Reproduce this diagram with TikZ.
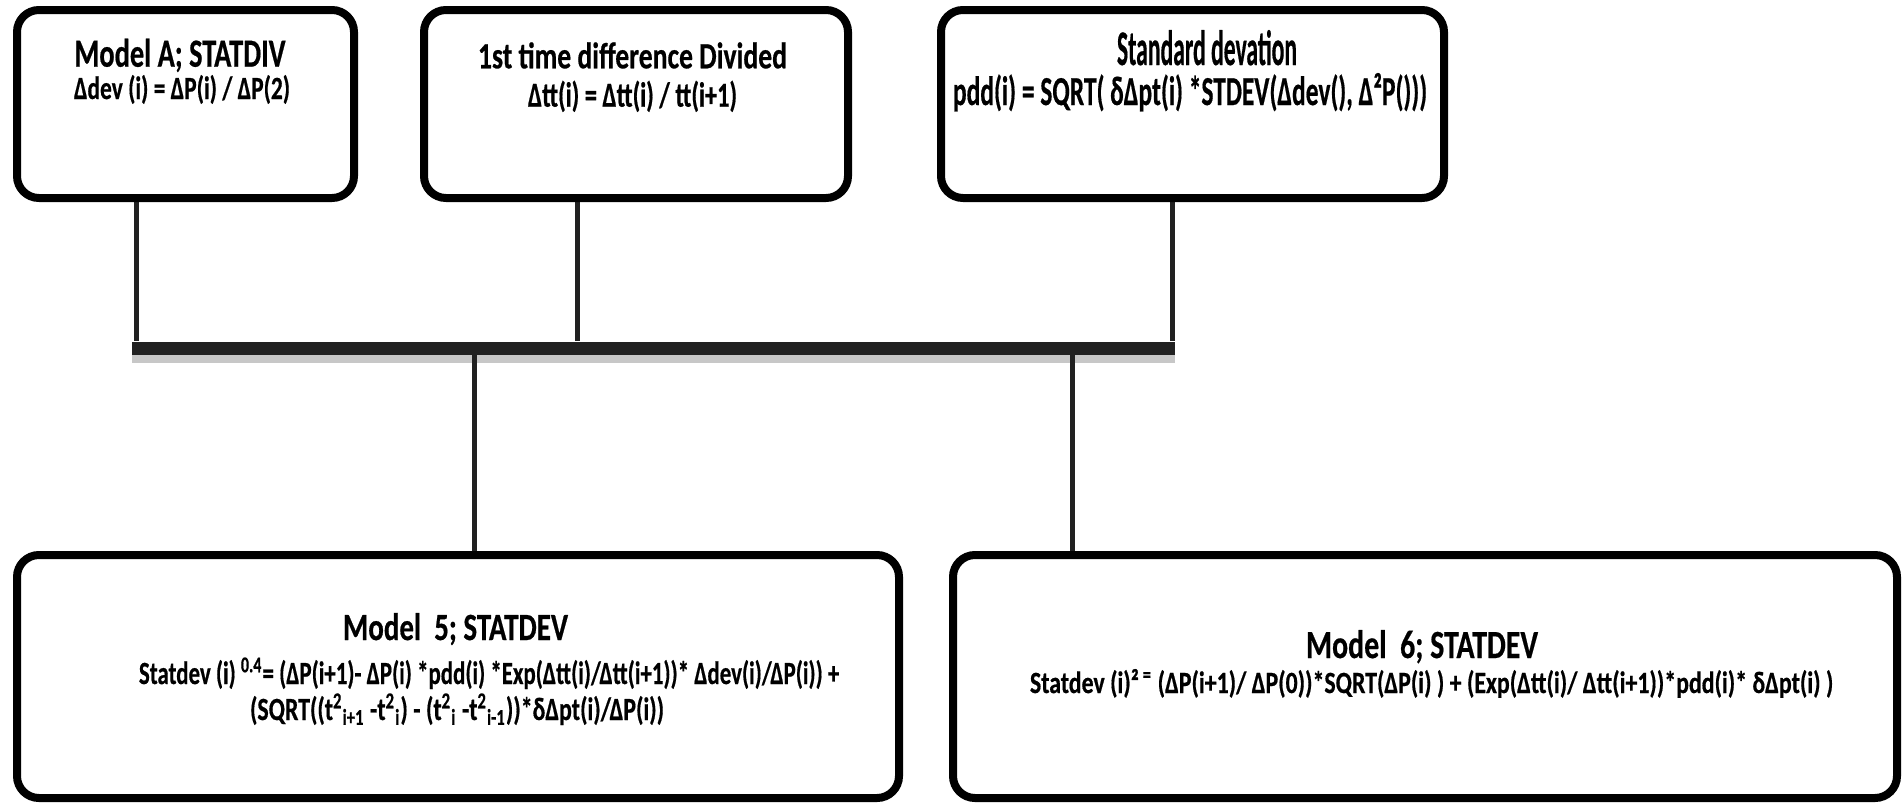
\documentclass[tikz,border=0pt]{standalone}
\usepackage{fontspec}
\setmainfont{Carlito}[BoldFeatures={FakeBold=0.6}]
\usetikzlibrary{
	backgrounds,
	shadows,
}
\definecolor{wire}{rgb}{0.13, 0.13, 0.13}
% squeeze one line of text into a measured width and height
\newcommand{\fitline}[3]{\resizebox{#1}{#2}{#3}}
\newcommand{\supsm}[1]{\smash{\textsuperscript{#1}}}
\newcommand{\subsm}[1]{\smash{\textsubscript{#1}}}
\newcommand{\tsq}[1]{t\supsm{2}\subsm{#1}}

\begin{document}
\begin{tikzpicture}[x=1pt, y=-1pt, thick,
	modelbox/.style={draw=black, line width=8pt, rounded corners=22pt, fill=white, inner sep=0pt, outer sep=0pt},
	boxtext/.style={anchor=base, inner sep=0pt, font=\bfseries},
	wireline/.style={draw=wire, line width=5pt},
	]
\useasboundingbox (0,0) rectangle (1903,803);

% top row
\node[modelbox, minimum width=337pt, minimum height=188pt] (statdiv) at (185.5,104) {};
\node[boxtext] (statdivhead) at (180,66.7) {\fitline{211pt}{28pt}{Model A; STATDIV}};
\node[boxtext] (statdivform) at (182,99) {\fitline{216pt}{24pt}{Δdev (i) = ΔP(i) / ΔP(2)}};

\node[modelbox, minimum width=424pt, minimum height=188pt] (tdiff) at (636,104) {};
\node[boxtext] (tdiffhead) at (632.5,68.3) {\fitline{309pt}{26pt}{1st time difference Divided}};
\node[boxtext] (tdiffform) at (632.5,106.7) {\fitline{209pt}{26pt}{Δtt(i) = Δtt(i) / tt(i+1)}};

\node[modelbox, minimum width=503pt, minimum height=188pt] (stdev) at (1192.5,104) {};
\node[boxtext] (stdevhead) at (1207,65) {\fitline{180pt}{35pt}{Standard devation}};
\node[boxtext] (stdevform) at (1190,105) {\fitline{474pt}{32pt}{pdd(i) = SQRT( δΔpt(i) *STDEV(Δdev(), Δ²P()))}};

% bottom row
\node[modelbox, minimum width=882pt, minimum height=243pt] (modelfive) at (458,676.5) {};
\node[boxtext] (modelfivehead) at (455.5,640) {\fitline{225pt}{27pt}{Model\ \ 5; STATDEV}};
\node[boxtext] (modelfiveform) at (489,684) {\fitline{700pt}{24pt}{Statdev (i) \supsm{0.4}= (ΔP(i+1)- ΔP(i) *pdd(i) *Exp(Δtt(i)/Δtt(i+1))* Δdev(i)/ΔP(i)) +}};
\node[boxtext] (modelfiveroot) at (457,720) {\fitline{414pt}{24pt}{(SQRT((\tsq{i+1} -\tsq{i}) - (\tsq{i} -\tsq{i-1}))*δΔpt(i)/ΔP(i))}};

\node[modelbox, minimum width=944pt, minimum height=243pt] (modelsix) at (1425,676.5) {};
\node[boxtext] (modelsixhead) at (1422,658) {\fitline{232pt}{28pt}{Model\ \ 6; STATDEV}};
\node[boxtext] (modelsixform) at (1431.5,693) {\fitline{803pt}{24pt}{Statdev (i)²\,\supsm{=} (ΔP(i+1)/ ΔP(0))*SQRT(ΔP(i) ) + (Exp(Δtt(i)/ Δtt(i+1))*pdd(i)* δΔpt(i) )}};

% joints on the bar
\coordinate (j1) at (136,348);
\coordinate (j2) at (577,348);
\coordinate (j3) at (1172,348);
\coordinate (j4) at (474,348);
\coordinate (j5) at (1072,348);

\begin{scope}[on background layer]
\node[fill=wire, minimum width=1043pt, minimum height=13pt, inner sep=0pt,
	drop shadow={shadow xshift=0pt, shadow yshift=-8pt, fill=black, opacity=0.22}] (bar) at (653,348) {};
\draw[wireline] (statdiv.south -| j1) -- (j1 |- bar.north);
\draw[wireline] (tdiff.south -| j2) -- (j2 |- bar.north);
\draw[wireline] (stdev.south -| j3) -- (j3 |- bar.north);
\draw[wireline] (bar.south -| j4) -- (j4 |- modelfive.north);
\draw[wireline] (bar.south -| j5) -- (j5 |- modelsix.north);
\end{scope}
\end{tikzpicture}
\end{document}
